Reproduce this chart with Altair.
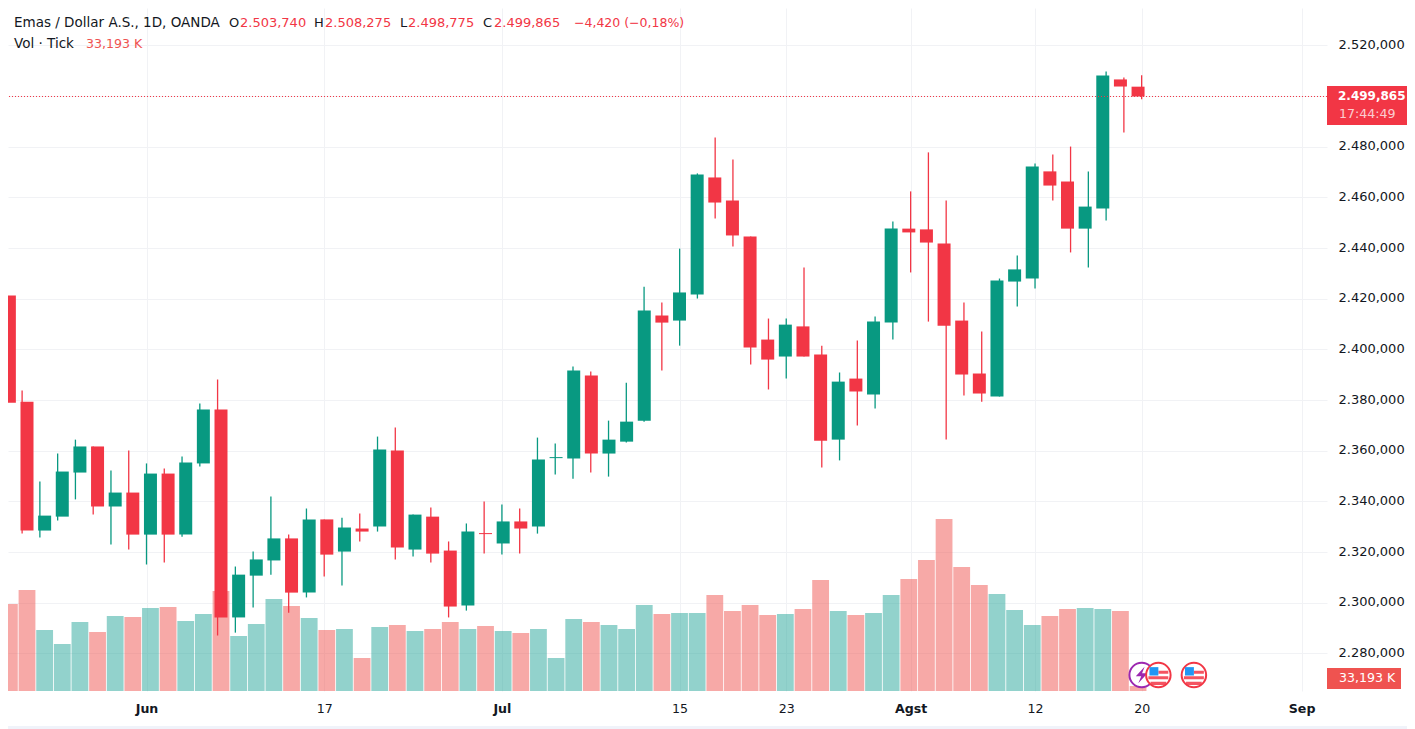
import altair as alt
import pandas as pd

opens = [2421.3,2379.4,2328.5,2334.0,2351.4,2361.7,2338.0,2343.5,2326.9,2351.0,2326.9,2355.0,2376.3,2294.2,2310.7,2316.7,2325.4,2304.0,2332.9,2320.2,2329.3,2330.1,2360.1,2321.0,2334.0,2320.6,2298.9,2327.5,2323.4,2332.1,2330.1,2357.1,2356.9,2389.7,2358.9,2363.6,2371.9,2413.4,2411.4,2421.7,2467.9,2458.8,2444.6,2403.9,2397.2,2409.1,2398.0,2364.4,2388.5,2382.2,2410.6,2447.7,2447.4,2441.8,2411.4,2390.5,2381.4,2426.8,2428.0,2470.3,2466.3,2447.7,2455.6,2506.6,2503.74]
highs = [2426.8,2383.8,2347.9,2358.9,2364.4,2361.7,2352.2,2360.1,2355.0,2353.0,2357.7,2378.7,2388.1,2314.3,2320.2,2341.9,2326.9,2337.2,2332.9,2333.6,2335.2,2365.6,2369.2,2334.8,2337.6,2324.2,2331.3,2340.0,2338.8,2337.2,2365.2,2362.9,2393.3,2391.3,2371.9,2386.9,2424.8,2418.5,2439.8,2469.5,2483.7,2475.0,2444.6,2412.2,2412.2,2432.4,2401.5,2390.9,2403.5,2413.0,2450.5,2462.4,2477.8,2458.8,2418.5,2407.1,2428.0,2437.1,2473.4,2477.0,2480.1,2470.3,2509.7,2507.4,2508.275]
lows = [2375.1,2327.3,2325.8,2332.5,2340.8,2334.8,2323.0,2321.0,2315.1,2315.9,2326.1,2353.8,2287.1,2288.2,2298.1,2311.1,2296.1,2302.1,2310.4,2306.8,2324.2,2328.1,2317.1,2318.3,2315.9,2294.2,2296.9,2319.4,2319.0,2319.4,2327.3,2350.6,2349.0,2351.4,2349.8,2363.3,2371.5,2391.7,2401.5,2420.1,2451.7,2440.6,2394.1,2384.2,2388.5,2397.2,2353.4,2356.2,2370.0,2376.7,2403.9,2430.4,2411.0,2364.4,2381.8,2379.4,2381.4,2417.0,2424.1,2458.8,2438.3,2432.4,2450.9,2485.6,2498.775]
closes = [2379.0,2328.5,2334.4,2351.8,2361.7,2338.0,2343.5,2326.9,2351.0,2326.9,2355.4,2376.3,2294.2,2311.1,2317.1,2325.4,2304.0,2332.9,2319.0,2329.7,2328.1,2360.5,2321.8,2334.8,2319.4,2298.5,2328.1,2327.1,2332.1,2329.3,2356.6,2357.5,2391.7,2358.9,2364.4,2371.5,2415.4,2410.6,2422.5,2469.1,2458.0,2445.0,2400.8,2396.0,2409.8,2397.2,2364.0,2387.3,2383.4,2411.0,2447.7,2446.2,2442.2,2409.4,2390.1,2382.6,2427.2,2431.6,2472.2,2464.7,2447.7,2456.4,2508.2,2503.8,2499.865]
volumes = [578,671,405,312,458,392,498,491,551,558,465,511,664,365,445,611,564,485,405,412,219,425,438,398,412,458,412,432,398,385,412,219,478,458,438,412,571,511,518,518,637,531,571,505,511,544,737,531,505,518,637,744,870,1142,823,704,644,538,438,498,544,551,544,531,33.193]

price_ticks = [2280,2300,2320,2340,2360,2380,2400,2420,2440,2460,2480,2500,2520]
time_ticks = [8,18,28,38,44,51,58,64,73]
time_labels = ["Jun","17","Jul","15","23","Agst","12","20","Sep"]
month_labels = ["Jun","Jul","Agst","Sep"]
event_slots = [65,67]
last_price = closes[-1]

GREEN, RED = "#089981", "#F23645"
VG, VR = "#26a69a", "#ef5350"
TXT = "#131722"
GRID = "#F1F2F5"
FONT = "DejaVu Sans"
FS = 13

df = pd.DataFrame({"i": range(len(opens)), "o": opens, "h": highs, "l": lows, "c": closes, "v": volumes})
df["top"] = df[["o", "c"]].max(axis=1)
df["bot"] = df[["o", "c"]].min(axis=1)

W, H = 1319, 683
xdom = [0.206, 74.43]
ydom = [2265.16, 2534.8]
xs = alt.Scale(domain=xdom, nice=False, zero=False)
ys = alt.Scale(domain=ydom, nice=False, zero=False)

lab = "{" + ",".join(f"{t}:'{l}'" for t, l in zip(time_ticks, time_labels)) + "}"
month_ticks = [t for t, l in zip(time_ticks, time_labels) if l in month_labels]
month_test = " || ".join(f"datum.value == {m}" for m in month_ticks)
xaxis = alt.Axis(values=time_ticks, labelExpr=f"{lab}[datum.value]", title=None, domain=False, ticks=False,
                 grid=True, gridColor=GRID, labelFont=FONT, labelFontSize=12.6, labelColor=TXT, labelPadding=11,
                 labelOverlap=False, labelFlush=False,
                 labelFontWeight=alt.condition(month_test, alt.value("bold"), alt.value("normal")))
yaxis = alt.Axis(values=price_ticks, orient="right", title=None, domain=False, ticks=False, grid=True,
                 gridColor=GRID, labelFont=FONT, labelFontSize=FS, labelColor=TXT, labelPadding=11,
                 labelFlush=False, labelOverlap=False, labelOffset=-1,
                 labelExpr="datum.value == 2500 ? '' : replace(replace(replace(format(datum.value,',.3f'),',','#'),'.',','),'#','.')")
X = alt.X("i:Q", scale=xs, axis=None)
is_up = "datum.c >= datum.o"
candle_col = alt.condition(is_up, alt.value(GREEN), alt.value(RED))
vol_col = alt.condition(is_up, alt.value(VG), alt.value(VR))

base = alt.Chart(df)
grid = base.mark_rule(opacity=0).encode(x=alt.X("i:Q", scale=xs, axis=xaxis), y=alt.Y("c:Q", scale=ys, axis=yaxis))
vol = base.mark_bar(size=16.8, opacity=0.5).encode(
    x=X, y=alt.Y("v:Q", scale=alt.Scale(domain=[0, 4535], nice=False, zero=True), axis=None),
    color=vol_col)
wick = base.mark_rule(strokeWidth=1.3, clip=True).encode(
    x=X, y=alt.Y("h:Q", scale=ys, axis=None), y2="l:Q", color=candle_col)
body = base.mark_bar(size=13, clip=True).encode(
    x=X, y=alt.Y("top:Q", scale=ys, axis=None), y2="bot:Q", color=candle_col)
price_line = alt.Chart(pd.DataFrame({"p": [last_price]})).mark_rule(strokeDash=[1, 2], strokeWidth=1, color=RED).encode(
    y=alt.Y("p:Q", scale=ys, axis=None))


def label(text, px, py, color=TXT, size=FS, weight="normal", opacity=1):
    return alt.Chart(pd.DataFrame({"t": [text]})).mark_text(
        align="left", baseline="middle", font=FONT, fontSize=size, fontWeight=weight, color=color, opacity=opacity
    ).encode(text="t:N", x=alt.value(px - 8), y=alt.value(py - 8))


def box(x0, x1, y0, y1, color):
    return alt.Chart(pd.DataFrame({"t": [0]})).mark_rect(color=color).encode(
        x=alt.value(x0 - 8), x2=alt.value(x1 - 8), y=alt.value(y0 - 8), y2=alt.value(y1 - 8))


texts = [
    label("Emas / Dollar A.S., 1D, OANDA", 14, 23, size=13.5),
    label("O", 229, 23), label("2.503,740", 240, 23, RED),
    label("H", 314, 23), label("2.508,275", 325, 23, RED),
    label("L", 400, 23), label("2.498,775", 408, 23, RED),
    label("C", 483, 23), label("2.499,865", 494, 23, RED),
    label("\u22124,420 (\u22120,18%)", 574, 23, RED, size=12.5),
    label("Vol \u00b7 Tick", 14, 44, size=13.5),
    label("33,193 K", 86, 44, VR, size=12.6),
]
tags = [
    box(1327, 1407, 86, 125, RED),
    label("2.499,865", 1338, 96, "white", 12, "bold"),
    label("17:44:49", 1339, 114, "white", 12.6, "normal", 0.75),
    box(1327, 1401, 668, 689, VR),
    label("33,193 K", 1339, 678, "white", 12.6),
    box(0, 1407, 726, 729, "#F0F3FA"),
]


def circle_mark(idx, stroke):
    return alt.Chart(pd.DataFrame({"i": [idx]})).mark_point(
        shape="circle", size=600, fill="white", stroke=stroke, strokeWidth=2, opacity=1, filled=False, fillOpacity=1
    ).encode(x=X, y=alt.value(667))


flags = []
for s in event_slots:
    d = alt.Chart(pd.DataFrame({"i": [s - 0.06]}))
    flags += [
        circle_mark(s - 0.06, RED),
        d.mark_point(shape="M-0.95,0.12H0.95V0.4H-0.95ZM-0.75,0.65H0.75V0.95H-0.75ZM0,-0.4H0.95V-0.12H0Z", size=440,
                     filled=True, fill=RED, opacity=0.85, strokeWidth=0).encode(x=X, y=alt.value(667)),
        d.mark_point(shape="M-0.85,-0.75H0V0.05H-0.85Z", size=440, filled=True, fill="#2196F3", opacity=1,
                     strokeWidth=0).encode(x=X, y=alt.value(667)),
    ]
bolt = alt.Chart(pd.DataFrame({"i": [64.0]})).mark_point(
    shape="M0.35,-1L-0.7,0.15H-0.05L-0.4,1L0.7,-0.2H0.05Z", size=280, filled=True, fill="#9C27B0", opacity=1, strokeWidth=0
).encode(x=X, y=alt.value(667))

chart = alt.layer(
    grid, vol, wick, body, price_line, *texts, *tags,
    circle_mark(64.0, "#9C27B0"), bolt, *flags
).resolve_scale(x="independent", y="independent").properties(
    width=W, height=H, padding={"left": 0, "top": 0, "right": 80, "bottom": 38},
    autosize=alt.AutoSizeParams(type="none"), background="white"
).configure_view(strokeWidth=0)

chart.save("out.html", embed_options={"renderer": "svg", "actions": False})
